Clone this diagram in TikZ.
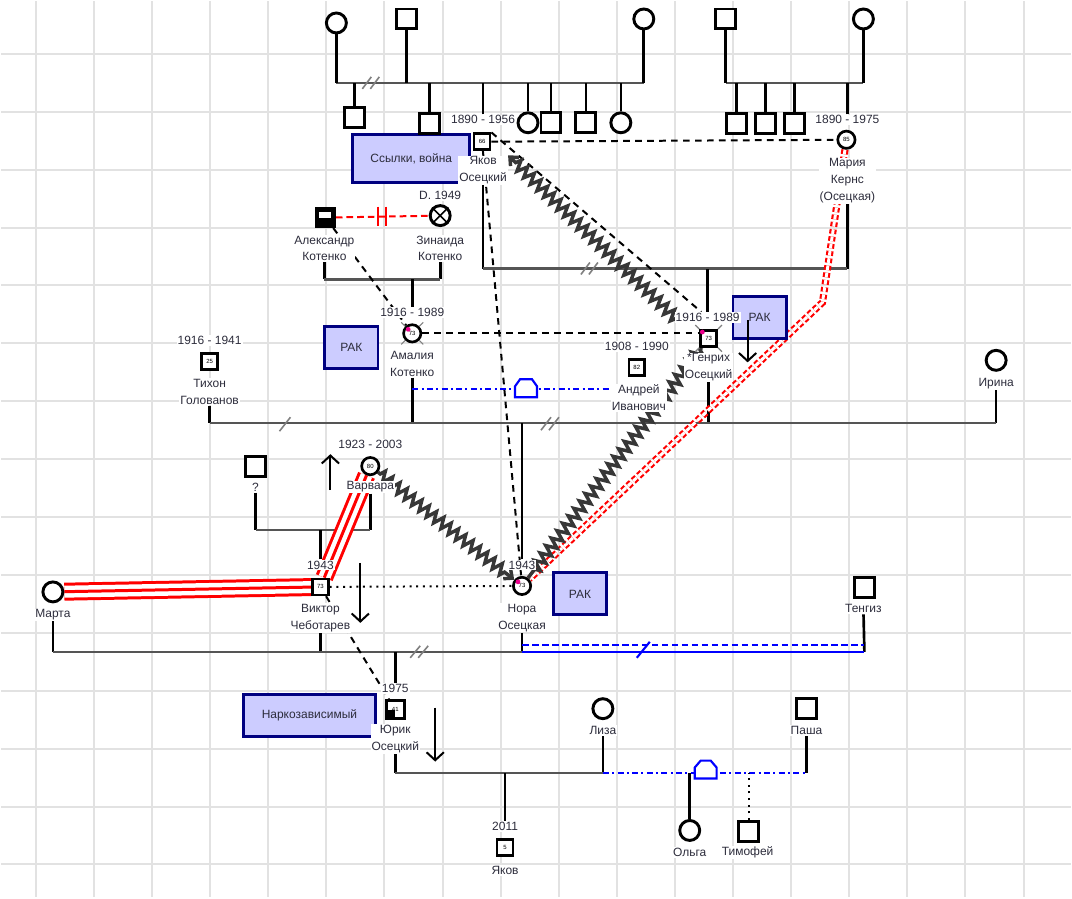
\documentclass[tikz,border=0pt]{standalone}
\usepackage{fontspec}
\setmainfont{Liberation Sans}
\usetikzlibrary{arrows.meta,decorations.pathmorphing}

\definecolor{gridgray}{RGB}{226,226,226}
\definecolor{siblinegray}{RGB}{85,85,85}
\definecolor{issuefill}{RGB}{204,204,255}
\definecolor{issueline}{RGB}{0,0,128}
\definecolor{labeltext}{RGB}{45,45,60}
\definecolor{hostilegray}{RGB}{55,55,55}
\definecolor{cohabblue}{RGB}{0,0,255}

\pgfdeclarelayer{paper}
\pgfdeclarelayer{links}
\pgfsetlayers{paper,links,main}

\tikzset{every picture/.style={line width=0.75pt}}
\tikzset{
  male/.style={draw, rectangle, line width=2.2pt, fill=white, minimum size=15pt, inner sep=0pt},
  female/.style={draw, circle, line width=2.2pt, fill=white, minimum size=15pt, inner sep=0pt},
  agemale/.style={male, line width=2pt, minimum size=12pt, font=\fontsize{4.5}{5}\selectfont},
  agefemale/.style={female, line width=2pt, minimum size=13pt, font=\fontsize{4.5}{5}\selectfont},
  lbl/.style={fill=white, inner sep=0.75pt, align=center, text=labeltext, font=\fontsize{9}{12.5}\selectfont},
  issue/.style={draw=issueline, line width=2.2pt, fill=issuefill, text=labeltext, font=\fontsize{9}{11}\selectfont, minimum height=31.5pt},
  kin/.style={draw=black, line width=2pt},
  sib/.style={draw=siblinegray, line width=1.6pt},
  splitmark/.style={draw=gray, line width=1.2pt},
  distant/.style={draw=black, line width=1.5pt, dash pattern=on 5pt off 4pt},
  dotline/.style={draw=black, line width=1.5pt, dash pattern=on 1.5pt off 3.5pt},
  cohab/.style={draw=cohabblue, line width=1.6pt, dash pattern=on 4.5pt off 2.5pt on 1.5pt off 2.5pt},
  fused/.style={draw=red, line width=2.25pt, preaction={draw=red, line width=13.5pt}, preaction={draw=white, line width=9pt}},
  cutoff/.style={draw=red, line width=1.6pt, double=white, double distance=2.2pt, dash pattern=on 3.5pt off 2pt},
  hostile/.style={draw=hostilegray, line width=2.6pt, decorate, decoration={zigzag, segment length=7pt, amplitude=4pt, pre length=2pt, post length=6pt}},
  freearrow/.style={draw=black, line width=1.5pt, -{Straight Barb[length=6pt,width=13pt]}},
}

\begin{document}
\begin{tikzpicture}[x=0.75pt,y=0.75pt,yscale=-1,xscale=1]

%Grid paper
\begin{pgfonlayer}{paper}
\fill[white] (0,0) rectangle (1072,898);
\foreach \k in {0,...,17} \draw[gridgray, line width=1.5pt] ({35+58.2*\k},0) -- ({35+58.2*\k},898);
\foreach \k in {1,...,15} \draw[gridgray, line width=1.5pt] (0,{-5+58*\k}) -- (1072,{-5+58*\k});
\end{pgfonlayer}
\useasboundingbox (0,0) rectangle (1072,898);

%Issue boxes
\node[issue, minimum width=88pt, minimum height=36pt] (exile) at (411,158) {Ссылки, война};
\node[issue, minimum width=40pt] (cancerA) at (351,347) {РАК};
\node[issue, minimum width=40pt] (cancerG) at (760,317) {РАК};
\node[issue, minimum width=40pt] (cancerN) at (580,594) {РАК};
\node[issue, minimum width=99pt] (addict) at (309,716) {Наркозависимый};

%Shape: top generation
\node[female] (ggmA) at (336,22) {};
\node[male] (ggfA) at (406,18) {};
\node[female] (ggmB) at (644,18) {};
\node[male] (ggfC) at (726,18) {};
\node[female] (ggmC) at (864,18) {};
\coordinate (sibA1) at (336,82);
\coordinate (sibA2) at (644,82);
\coordinate (sibC1) at (726,82);
\coordinate (sibC2) at (864,82);

%Shape: siblings
\node[male] (sibYa1) at (354,117) {};
\node[male] (sibYa2) at (429,123) {};
\node[female] (sibYa3) at (528,122) {};
\node[male] (sibYa4) at (551,122) {};
\node[male] (sibYa5) at (586,122) {};
\node[female] (sibYa6) at (621,122) {};
\node[male] (sibMa1) at (737,123) {};
\node[male] (sibMa2) at (766,123) {};
\node[male] (sibMa3) at (795,123) {};

% Yakov and Maria
\node[lbl] (yakovD) at (483,119) {1890 - 1956};
\node[agemale] (yakov) at (482,141) {66};
\node[lbl] (yakovN) at (483,169.5) {Яков\\Осецкий};
\node[lbl] (mariaD) at (848,119) {1890 - 1975};
\node[agefemale] (maria) at (847,139) {85};
\node[lbl] (mariaN) at (848,180) {Мария\\Кернс\\(Осецкая)};
\coordinate (famYM1) at (483,268);
\coordinate (famYM2) at (848,268);

% Kotenko
\node[male, fill=black, minimum size=13.5pt] (alex) at (325,217) {};
\node[female] (zina) at (440,215) {};
\node[lbl] (zinaD) at (440,195) {D. 1949};
\node[lbl] (alexN) at (324,248) {Александр\\Котенко};
\node[lbl] (zinaN) at (440,248) {Зинаида\\Котенко};
\coordinate (famK1) at (324,279);
\coordinate (famK2) at (440,279);

% Genrikh
\node[lbl] (genrikhD) at (708,317) {1916 - 1989};
\node[agemale] (genrikh) at (709,338) {73};
\node[lbl] (genrikhN) at (709,367) {*Генрих\\Осецкий};

% Amalia
\node[lbl] (amaliaD) at (412,312) {1916 - 1989};
\node[agefemale] (amalia) at (412,333) {73};
\node[lbl] (amaliaN) at (412,363.5) {Амалия\\Котенко};

% Tikhon
\node[lbl] (tikhonD) at (209,340) {1916 - 1941};
\node[agemale] (tikhon) at (209,361) {25};
\node[lbl] (tikhonN) at (209,391.5) {Тихон\\Голованов};

% Andrei
\node[lbl] (andreiD) at (637,346) {1908 - 1990};
\node[agemale] (andrei) at (637,367) {82};
\node[lbl] (andreiN) at (639,397.5) {Андрей\\Иванович};

% Irina
\node[female] (irina) at (997,360) {};
\node[lbl] (irinaN) at (997,383) {Ирина};
\coordinate (famT1) at (209,423);
\coordinate (famT2) at (997,423);
\coordinate (cohabA) at (412,389);

% Varvara
\node[lbl] (varvaraD) at (370,444) {1923 - 2003};
\node[agefemale] (varvara) at (370,466) {80};
\node[lbl] (varvaraN) at (370,487) {Варвара};
\node[male] (unk) at (255,466) {};
\node[lbl] (unkN) at (255,487) {?};
\coordinate (famV1) at (255,530);
\coordinate (famV2) at (370,530);

% Viktor, Marta, Nora, Tengiz
\node[lbl] (viktorD) at (320,565) {1943};
\node[agemale] (viktor) at (320,587) {73};
\node[lbl] (viktorN) at (320,618) {Виктор\\Чеботарев};
\node[female] (marta) at (52,592) {};
\node[lbl] (martaN) at (52,615) {Марта};
\node[lbl] (noraD) at (522,565) {1943};
\node[agefemale] (nora) at (522,586) {73};
\node[lbl] (noraN) at (522,618) {Нора\\Осецкая};
\node[male] (tengiz) at (865,588) {};
\node[lbl] (tengizN) at (864,609) {Тенгиз};
\coordinate (famN1) at (52,652);
\coordinate (famN2) at (522,652);
\coordinate (famN3) at (865,652);
\coordinate (famN2d) at (522,645);
\coordinate (famN3d) at (865,645);
\coordinate (mnBend) at (823,302);
\coordinate (ghZ) at (678,320);

% Yurik, Liza, Pasha and children
\node[lbl] (yurikD) at (395,689) {1975};
\node[agemale, minimum size=13.5pt] (yurik) at (395,710) {41};
\node[lbl] (yurikN) at (395,739.5) {Юрик\\Осецкий};
\node[female] (liza) at (603,709) {};
\node[lbl] (lizaN) at (603,731) {Лиза};
\node[male] (pasha) at (807,709) {};
\node[lbl] (pashaN) at (807,731) {Паша};
\node[lbl] (yakovjD) at (505,827) {2011};
\node[agemale] (yakovj) at (505,848) {5};
\node[lbl] (yakovjN) at (505,871) {Яков};
\node[female] (olga) at (690,831) {};
\node[lbl] (olgaN) at (690,853) {Ольга};
\node[male] (timofei) at (749,832) {};
\node[lbl] (timofeiN) at (748,853) {Тимофей};
\coordinate (famY1) at (395,773);
\coordinate (famY2) at (603,773);
\coordinate (famP2) at (807,773);

\begin{pgfonlayer}{links}
%Straight Lines: sibships
\draw[sib] (sibA1) -- (sibA2);
\draw[kin] (ggmA) -- (sibA1);
\draw[kin] (ggmB) -- (sibA2);
\draw[kin] (ggfA) -- (ggfA |- sibA1);
\foreach \c in {sibYa1,sibYa2,sibYa3,sibYa4,sibYa5,sibYa6,yakovD} \draw[kin] (\c) -- (\c |- sibA1);
\draw[sib] (sibC1) -- (sibC2);
\draw[kin] (ggfC) -- (sibC1);
\draw[kin] (ggmC) -- (sibC2);
\foreach \c in {sibMa1,sibMa2,sibMa3,mariaD} \draw[kin] (\c) -- (\c |- sibC1);
\draw[splitmark] (362,88) -- (371,76) (370,88) -- (379,76);

%Straight Lines: Yakov + Maria
\draw[distant] (yakov) -- (maria);
\draw[kin] (yakovN) -- (famYM1);
\draw[kin] (mariaN) -- (famYM2);
\draw[sib] (famYM1) -- (famYM2);
\draw[kin] (genrikhD) -- (genrikhD |- famYM1);
\draw[splitmark] (581,274) -- (590,262) (589,274) -- (598,262);

%Straight Lines: Kotenko
\draw[red, line width=1.5pt, dash pattern=on 5pt off 3pt] (alex) -- (zina);
\draw[red, line width=1.8pt] (378,206) -- (378,225) (386,206) -- (386,225);
\draw[kin] (alexN) -- (famK1);
\draw[kin] (zinaN) -- (famK2);
\draw[sib] (famK1) -- (famK2);
\draw[kin] (amaliaD) -- (amaliaD |- famK1);
\draw[distant] (alex) -- (amalia);

%Straight Lines: big partner line
\draw[kin] (tikhonN) -- (famT1);
\draw[kin] (amaliaN) -- (amaliaN |- famT1);
\draw[kin] (genrikhN) -- (genrikhN |- famT1);
\draw[kin] (irinaN) -- (famT2);
\draw[sib] (famT1) -- (famT2);
\draw[kin] (noraD) -- (noraD |- famT1);
\draw[splitmark] (279,431) -- (290,417);
\draw[splitmark] (541,430) -- (551,417) (549,430) -- (559,417);
\draw[distant] (amalia) -- (amalia -| genrikh.west);
\draw[distant] (yakov.north east) -- (genrikhD);
\draw[distant] (yakov) -- (nora);
\draw[cohab] (cohabA) -- (cohabA -| andreiN.west);
\draw[cohabblue, line width=1.6pt, fill=white] (515,397) -- (515,386) -- (520,379) -- (532,379) -- (537,386) -- (537,397) -- cycle;

%Straight Lines: Varvara
\draw[kin] (unkN) -- (famV1);
\draw[kin] (varvaraN) -- (famV2);
\draw[sib] (famV1) -- (famV2);
\draw[kin] (viktorD) -- (viktorD |- famV1);

%Straight Lines: Marta, Viktor, Nora
\draw[kin] (martaN) -- (famN1);
\draw[kin] (viktorN) -- (viktorN |- famN1);
\draw[kin] (noraN) -- (famN2);
\draw[sib] (famN1) -- (famN2);
\draw[kin] (yurikD) -- (yurikD |- famN1);
\draw[splitmark] (410,658) -- (420,646) (418,658) -- (428,646);
\draw[kin] (tengizN) -- (famN3);
\draw[cohabblue, line width=1.6pt] (famN2) -- (famN3);
\draw[cohabblue, line width=1.6pt, dash pattern=on 5pt off 2.5pt] (famN2d) -- (famN3d);
\draw[cohabblue, line width=1.6pt] (637,658) -- (650,642);
\draw[dotline] (viktor) -- (nora);
\draw[distant] (viktor) -- (yurik);
\draw[fused] (marta) -- (viktor);
\draw[fused] (varvara) -- (viktor);
\draw[cutoff] (maria) -- (mnBend) -- (nora);
\draw[hostile, -{Straight Barb[length=5pt,width=9pt]}] (ghZ) -- (yakovN.north east);
\draw[hostile] (genrikh) -- (nora);
\draw[hostile, -{Straight Barb[length=5pt,width=9pt]}] (varvara) -- (nora);

%Straight Lines: Yurik, Liza, Pasha
\draw[kin] (yurikN) -- (famY1);
\draw[kin] (lizaN) -- (famY2);
\draw[sib] (famY1) -- (famY2);
\draw[kin] (yakovjD) -- (yakovjD |- famY1);
\draw[cohab] (famY2) -- (famP2);
\draw[kin] (pashaN) -- (famP2);
\draw[kin] (olga) -- (olga |- famY2);
\draw[dotline] (timofei) -- (timofei |- famY2);
\draw[cohabblue, line width=1.6pt, fill=white] (695,779) -- (695,768) -- (701,761) -- (711,761) -- (717,768) -- (717,779) -- cycle;
\end{pgfonlayer}

%Symbol details
\fill[white] ([shift={(-6,-6)}]alex.center) rectangle ([shift={(6,0)}]alex.center);
\draw[line width=1.2pt] (zina.north west) -- (zina.south east) (zina.north east) -- (zina.south west);
\fill[black] (yurik.west) rectangle (yurik.south);
\foreach \p in {amalia,genrikh,nora} \fill[magenta] ([shift={(3,3)}]\p.north west) circle (2.4);
\foreach \p in {amalia,genrikh} {
  \draw[gray, line width=0.9pt] (\p.north west) -- ++(-4,-4) (\p.north east) -- ++(4,-4)
    (\p.south west) -- ++(-4,4) (\p.south east) -- ++(4,4);
}

%Arrows
\draw[freearrow] (330,490) -- (330,454);
\draw[freearrow] (748,320) -- (748,362);
\draw[freearrow] (360,563) -- (360,623);
\draw[freearrow] (435,708) -- (435,762);

\end{tikzpicture}
\end{document}
